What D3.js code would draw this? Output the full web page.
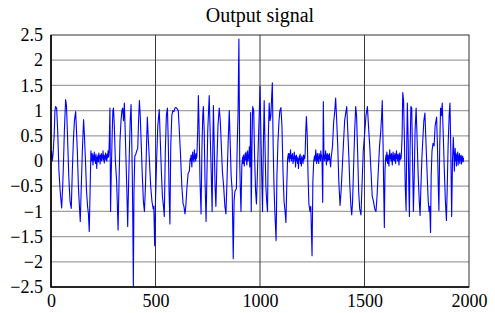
<!DOCTYPE html>
<html>
<meta charset="utf-8">
<title>Output signal</title>
<style>
  body { margin: 0; background: #fff; }
  .grid-h line { stroke: #a0a0a0; stroke-width: 1.3; }
  .grid-v line { stroke: #3a3a3a; stroke-width: 1; }
  .axis path, .axis line { display: none; }
  .frame { fill: none; stroke: #333; stroke-width: 1; }
  .signal { fill: none; stroke: #0000ff; stroke-width: 1.1; stroke-linejoin: round; }
</style>
<body>
<div id="chart"></div>
<script src="https://d3js.org/d3.v7.min.js"></script>
<script>
// [sample, value]
var outputSignal = [
  [0,0.05],[3,0.2],[6,0.0],[10,0.15],[15,0.5],[19,1.0],[22,1.08],[27,1.05],[32,0.6],[38,-0.2],[44,-0.6],[51,-0.93],[56,-0.5],[60,0.0],[64,0.6],[70,1.22],[74,1.1],[79,0.5],[85,-0.3],[91,-0.8],[97,-0.94],[102,-0.2],[107,0.4],[112,0.8],[118,0.98],[122,0.6],[126,0.2],[131,-0.5],[136,-0.9],[140,-1.2],[145,-0.5],[150,0.2],[156,0.82],[160,0.5],[165,0.0],[170,-0.6],[175,-0.9],[179,-1.05],[183,-1.4],[187,-0.6],[191,0.2],
  [193,0.1],[195,0.0],[197,0.15],[199,0.05],[201,-0.08],[203,0.12],[205,0.02],[207,0.18],[209,0.0],[211,0.1],[213,-0.05],[215,0.14],[217,0.04],[219,-0.15],[221,0.08],[223,0.0],[225,0.12],[227,-0.02],[229,0.16],[231,0.05],[233,0.1],[235,-0.06],[237,0.12],[239,0.02],[241,0.15],[243,0.0],[245,0.1],[247,0.06],[249,0.2],[251,0.02],[253,0.12],[255,-0.04],[257,0.1],[259,0.05],[261,0.16],[263,0.02],[265,0.12],[267,0.0],[269,0.14],[271,0.06],[273,0.2],[275,0.08],[277,0.15],
  [279,0.4],[282,1.05],[285,-1.0],[288,-0.3],[292,0.4],[296,1.0],[299,1.05],[303,0.7],[308,0.0],[314,-0.4],[321,-1.37],[325,-0.5],[330,0.4],[335,0.8],[339,1.0],[343,1.05],[347,0.8],[351,1.15],[355,0.6],[359,0.0],[363,-0.6],[367,-1.3],[371,-0.5],[375,0.2],[379,0.8],[383,1.12],[386,0.5],[389,-0.3],[391,-1.0],[394,-2.48],[397,-0.6],[401,0.1],[405,0.12],[410,0.2],[415,0.25],[419,0.8],[423,1.2],[427,0.9],[432,0.3],[437,-0.3],[442,-0.8],[447,-1.0],[452,-0.5],[457,0.3],[461,0.87],[466,0.4],[471,0.0],[477,-0.5],[483,-0.8],[489,-0.95],[492,-0.9],[496,-1.68],[500,-0.8],[506,0.1],[511,0.7],[518,1.02],[523,0.4],[528,-0.2],[533,-0.7],[538,-0.9],[542,-1.1],[547,0.2],[552,0.9],[557,1.05],[561,0.4],[565,-0.6],[569,-1.25],[573,0.3],[578,0.9],[583,1.0],[588,0.98],[593,1.05],[598,1.06],[603,1.04],[609,1.0],[614,0.6],[620,0.1],[626,-0.5],[632,-0.85],[636,-0.9],[641,-1.05],[645,-0.9],[650,-0.55],[656,-0.25],[662,-0.2],[666,0.05],
  [668,0.0],[670,0.12],[672,0.02],[674,-0.12],[676,0.1],[678,0.18],[680,0.02],[682,0.1],[684,-0.02],[686,0.22],[688,0.05],[690,0.12],[692,0.0],[694,0.15],[696,0.05],[698,0.1],
  [702,0.6],[705,1.3],[708,0.8],[713,-0.4],[718,-1.05],[722,0.2],[726,0.9],[729,1.08],[733,0.6],[737,-0.4],[742,-1.2],[746,-0.3],[750,0.6],[754,1.0],[757,1.3],[762,0.5],[767,-0.3],[771,-1.0],[774,0.2],[777,1.1],[781,0.3],[785,-0.5],[789,-0.9],[794,0.0],[799,0.7],[805,1.05],[810,0.8],[815,0.3],[820,-0.2],[826,-0.5],[832,-0.9],[837,-1.05],[842,-0.4],[847,0.3],[853,1.0],[857,0.4],[862,-0.3],[867,-0.6],[872,-1.94],[876,-0.8],[880,-0.6],[887,-0.55],[891,0.3],[895,0.95],[899,2.42],[903,0.0],[906,-0.6],[909,-1.0],[913,-0.1],
  [915,0.0],[917,0.08],[919,-0.05],[921,0.12],[923,0.02],[925,-0.1],[927,0.08],[929,0.15],[931,0.02],[933,0.18],[935,0.05],[937,-0.08],[939,0.1],[941,0.2],[943,0.0],[945,0.12],[947,0.05],[949,0.28],[951,-0.12],[953,0.05],
  [955,0.96],[958,-1.0],[962,0.4],[965,1.08],[970,1.0],[974,0.1],[979,-0.6],[983,-0.85],[988,-0.2],[993,0.5],[997,1.0],[1000,1.48],[1004,0.6],[1008,-0.2],[1012,-1.0],[1016,0.3],[1020,1.2],[1024,0.3],[1028,-0.5],[1032,-0.8],[1036,-1.0],[1040,0.5],[1044,1.15],[1048,0.8],[1052,0.9],[1055,1.2],[1059,1.55],[1063,0.3],[1067,-0.5],[1071,-1.0],[1077,-1.58],[1081,-0.3],[1086,0.4],[1091,0.8],[1095,1.0],[1100,1.06],[1105,0.7],[1110,-0.2],[1115,-0.8],[1120,-1.0],[1124,-1.22],[1128,-0.5],[1132,0.05],[1136,0.15],
  [1138,0.05],[1140,-0.02],[1142,0.15],[1144,0.05],[1146,0.22],[1148,0.1],[1150,0.0],[1152,0.12],[1154,0.05],[1156,0.15],[1158,-0.05],[1160,0.08],[1162,0.0],[1164,0.18],[1166,0.05],[1168,0.1],[1170,-0.12],[1172,0.02],[1174,0.12],[1176,0.0],[1178,0.08],[1180,-0.05],[1182,0.05],[1184,-0.15],[1186,0.0],[1188,0.1],[1190,0.02],[1192,0.14],[1194,-0.05],[1196,0.05],[1198,-0.1],[1200,0.1],[1202,0.0],[1204,0.06],[1206,-0.05],[1208,0.12],[1210,0.02],[1212,0.1],[1214,0.05],[1216,0.15],
  [1219,0.6],[1222,0.88],[1226,0.5],[1230,-0.3],[1234,-0.85],[1239,-1.0],[1243,-0.9],[1249,-1.88],[1253,-0.4],[1257,0.0],[1261,0.1],
  [1263,0.0],[1265,0.12],[1267,0.22],[1269,0.05],[1271,-0.05],[1273,0.1],[1275,0.15],[1277,0.0],[1279,0.08],[1281,-0.05],[1283,0.15],[1285,0.05],[1287,0.12],[1289,0.0],[1291,0.2],[1293,0.08],[1295,0.12],[1297,-0.05],
  [1300,-0.82],[1303,1.18],
  [1306,0.1],[1308,0.0],[1310,0.12],[1312,0.05],[1314,0.2],[1316,0.02],[1318,-0.08],[1320,0.1],[1322,0.15],[1324,0.0],[1326,0.08],[1328,0.12],[1330,0.02],[1332,0.15],[1334,0.05],[1336,-0.05],[1338,-0.12],[1340,0.05],[1342,0.12],
  [1347,0.3],[1352,0.75],[1358,1.0],[1362,1.25],[1367,0.8],[1372,0.3],[1377,-0.4],[1383,-0.88],[1388,-0.6],[1394,-0.1],[1400,0.4],[1405,0.8],[1410,0.95],[1415,1.08],[1420,0.6],[1425,0.1],[1430,-0.5],[1435,-0.9],[1439,-1.07],[1443,-0.8],[1448,-0.1],[1453,0.6],[1458,1.08],[1462,0.9],[1467,0.2],[1472,-0.6],[1477,-0.95],[1483,-1.07],[1488,-0.5],[1494,0.2],[1500,0.5],[1507,0.9],[1514,1.08],[1519,0.7],[1525,0.3],[1531,-0.2],[1537,-0.7],[1543,-0.8],[1549,-0.95],[1555,-1.0],[1560,-0.7],[1566,-0.2],[1572,0.3],[1578,0.6],[1582,0.9],[1585,1.2],[1589,0.3],[1592,-0.6],[1595,-1.32],[1598,-0.2],[1601,0.05],
  [1603,0.12],[1605,0.0],[1607,0.18],[1609,0.05],[1611,-0.05],[1613,0.12],[1615,0.02],[1617,-0.1],[1619,0.1],[1621,0.22],[1623,0.05],[1625,0.12],[1627,0.0],[1629,0.15],[1631,0.05],[1633,-0.08],[1635,0.1],[1637,0.18],[1639,0.02],[1641,0.1],[1643,0.0],[1645,0.15],[1647,0.05],[1649,-0.05],[1651,0.12],[1653,0.2],[1655,0.05],[1657,0.12],[1659,0.0],[1661,0.14],[1663,0.05],[1665,-0.08],[1667,0.1],[1669,0.16],[1671,0.02],[1673,0.1],[1675,0.05],[1677,0.18],
  [1680,0.5],[1683,1.36],[1687,1.2],[1691,0.4],[1695,-0.5],[1699,-0.98],[1702,0.3],[1705,1.15],[1709,0.4],[1712,-0.5],[1715,-1.1],[1718,0.2],[1722,1.08],[1726,1.05],[1730,0.0],[1734,-1.0],[1738,-0.3],[1742,0.6],[1747,1.05],[1752,0.4],[1757,-0.3],[1762,-0.8],[1766,-1.08],[1770,-0.5],[1775,0.1],[1780,0.5],[1784,0.8],[1789,0.95],[1793,0.5],[1797,0.05],[1801,-0.4],[1805,-0.8],[1809,-1.0],[1812,-0.9],[1816,-1.42],[1819,-0.3],[1823,0.2],[1828,0.35],[1833,0.3],[1838,0.7],[1845,0.87],[1849,0.3],[1853,-0.5],[1856,-0.98],[1860,0.3],[1864,1.05],[1868,0.9],[1872,1.15],[1877,0.5],[1882,-0.2],[1887,-0.8],[1892,-1.18],[1896,-0.5],[1900,0.3],[1905,0.9],[1909,1.15],[1913,0.2],[1917,-1.1],[1921,0.0],[1925,0.47],[1928,0.1],
  [1930,-0.2],[1932,0.1],[1934,0.25],[1936,0.0],[1938,0.15],[1940,-0.1],[1942,0.12],[1944,0.02],[1946,0.18],[1948,-0.08],[1950,0.1],[1952,0.0],[1954,0.15],[1956,-0.05],[1958,0.1],[1960,0.02],[1962,0.12],[1964,-0.06],[1966,0.08],[1968,0.0],[1970,0.1],[1972,-0.02],[1974,0.06]
];

var xTicks = [0, 500, 1000, 1500, 2000];
var yTicks = [-2.5, -2, -1.5, -1, -0.5, 0, 0.5, 1, 1.5, 2, 2.5];
var chartTitle = "Output signal";

var serif = '"Liberation Serif", "DejaVu Serif", serif';

var margin = {top: 35, right: 26, bottom: 26, left: 51},
    width = 495, height = 313;

var x = d3.scaleLinear().domain([0, 2000]).range([margin.left, width - margin.right]);
var y = d3.scaleLinear().domain([-2.5, 2.5]).range([height - margin.bottom, margin.top]);

var svg = d3.select("#chart").append("svg")
    .attr("width", width)
    .attr("height", height);

// grid
svg.append("g").attr("class", "grid-h")
  .selectAll("line").data(yTicks.slice(1, -1)).enter().append("line")
    .attr("x1", x(0)).attr("x2", x(2000))
    .attr("y1", function(d) { return y(d); })
    .attr("y2", function(d) { return y(d); });

svg.append("g").attr("class", "grid-v")
  .selectAll("line").data(xTicks.slice(1, -1)).enter().append("line")
    .attr("y1", y(-2.5)).attr("y2", y(2.5))
    .attr("x1", function(d) { return x(d); })
    .attr("x2", function(d) { return x(d); });

// signal
var line = d3.line()
    .x(function(d) { return x(d[0]); })
    .y(function(d) { return y(d[1]); });

svg.append("path")
    .datum(outputSignal)
    .attr("class", "signal")
    .attr("d", line);

// frame
svg.append("rect").attr("class", "frame")
    .attr("x", x(0)).attr("y", y(2.5))
    .attr("width", x(2000) - x(0)).attr("height", y(-2.5) - y(2.5));
svg.append("path")
    .attr("d", "M" + x(0) + "," + y(2.5) + "V" + y(-2.5) + "H" + x(2000))
    .attr("fill", "none").attr("stroke", "#000").attr("stroke-width", 1.6);

// axes
svg.append("g").attr("class", "axis")
    .attr("transform", "translate(" + margin.left + ",0)")
    .call(d3.axisLeft(y).tickValues(yTicks).tickSize(0).tickPadding(8).tickFormat(d3.format("")));

svg.append("g").attr("class", "axis")
    .attr("transform", "translate(0," + (height - margin.bottom) + ")")
    .call(d3.axisBottom(x).tickValues(xTicks).tickSize(0).tickPadding(7).tickFormat(d3.format("")));

svg.selectAll(".axis text")
    .style("font-family", serif)
    .style("font-size", "18px")
    .attr("fill", "#000");

svg.append("text")
    .attr("x", (x(0) + x(2000)) / 2)
    .attr("y", 22)
    .attr("text-anchor", "middle")
    .style("font-family", serif)
    .style("font-size", "20px")
    .text(chartTitle);
</script>
</body>
</html>
